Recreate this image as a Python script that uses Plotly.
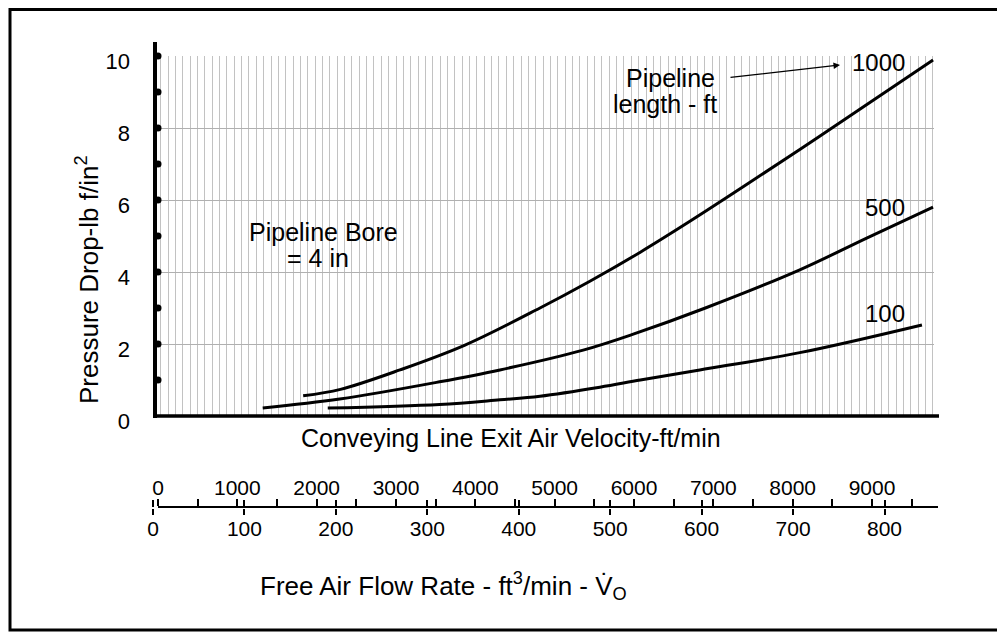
import plotly.graph_objects as go

W, H = 1005, 632
OFF = 8  # the page body adds an 8 px margin around the figure
FONT = "Liberation Sans, Arial, Helvetica, sans-serif"

# pressure drop (lbf/in2) against conveying line exit air velocity (ft/min)
v_1000 = [1830, 2300, 3050, 3870, 4815, 5450, 6080, 6700, 7400, 8100, 8800, 9770]
p_1000 = [0.56, 0.74, 1.28, 1.97, 3.00, 3.75, 4.55, 5.40, 6.40, 7.42, 8.45, 9.89]
v_500 = [1320, 2290, 3550, 4310, 5360, 6000, 6900, 8090, 8940, 9770]
p_500 = [0.22, 0.47, 0.95, 1.28, 1.83, 2.28, 3.00, 4.06, 4.95, 5.80]
v_100 = [2140, 3550, 4310, 4815, 5570, 6080, 6830, 8090, 9630]
p_100 = [0.22, 0.32, 0.45, 0.55, 0.80, 1.00, 1.28, 1.76, 2.53]

curve_labels = ["1000", "500", "100"]

y_ticks = [0, 2, 4, 6, 8, 10]
y_dots = [1, 2, 3, 4, 5, 6, 7, 8, 9, 10]

vel_ticks = [0, 500, 1000, 1500, 2000, 2500, 3000, 3500, 4000, 4500,
             5000, 5500, 6000, 6500, 7000, 7500, 8000, 8500, 9000, 9500]
vel_text = ["0", "", "1000", "", "2000", "", "3000", "", "4000", "",
            "5000", "", "6000", "", "7000", "", "8000", "", "9000", ""]
flow_ticks = [0, 100, 200, 300, 400, 500, 600, 700, 800]
flow_text = ["0", "100", "200", "300", "400", "500", "600", "700", "800"]


def fx(px):
    return (px - OFF) / W


def fy(py):
    return 1 - (py - OFF) / H


fig = go.Figure()

for v, p in [(v_1000, p_1000), (v_500, p_500), (v_100, p_100)]:
    fig.add_trace(go.Scatter(x=v, y=p, mode="lines", line=dict(color="black", width=3, shape="spline"),
                             showlegend=False, hoverinfo="skip"))

# dots on the pressure axis
fig.add_trace(go.Scatter(x=[0] * len(y_dots), y=y_dots, mode="markers",
                         marker=dict(color="black", size=7), cliponaxis=False,
                         showlegend=False, hoverinfo="skip"))

# invisible traces so the lower scales get drawn
for xa, ya in [("x2", "y2"), ("x4", "y2"), ("x3", "y3")]:
    fig.add_trace(go.Scatter(x=[0], y=[0.5], xaxis=xa, yaxis=ya, mode="markers",
                             marker=dict(opacity=0), showlegend=False, hoverinfo="skip"))

fig.update_layout(
    width=W, height=H,
    margin=dict(l=0, r=0, t=0, b=0),
    paper_bgcolor="white", plot_bgcolor="rgba(0,0,0,0)",
    font=dict(family=FONT, color="black", size=21),
    xaxis=dict(domain=[fx(155), fx(934)], range=[-37.8, 9782], automargin=False,
               showgrid=True, gridcolor="#c2c2c2", gridwidth=1, tick0=34, dtick=92.7,
               showticklabels=False, ticks="", zeroline=False, showline=False),
    yaxis=dict(domain=[fy(416), fy(56)], range=[0, 10], automargin=False,
               showgrid=True, gridcolor="#b0b0b0", gridwidth=1,
               tickvals=y_ticks, ticks="", ticklabelstandoff=24, ticklabelshift=5,
               tickfont=dict(size=22), zeroline=False, showline=False),
    yaxis2=dict(domain=[0, fy(508)], range=[0, 1], visible=False, automargin=False),
    yaxis3=dict(domain=[fy(508), fy(470)], range=[0, 1], visible=False, automargin=False),
    xaxis2=dict(domain=[fx(158), fx(938)], range=[0, 9832], anchor="y2", side="top", automargin=False,
                showline=True, linecolor="black", linewidth=2,
                ticks="outside", ticklen=7, tickwidth=2, tickcolor="black", ticklabelstandoff=-4,
                tickvals=vel_ticks, ticktext=vel_text, showgrid=False, zeroline=False),
    xaxis4=dict(domain=[fx(153), fx(938)], range=[0, 858.5], anchor="y2", side="top", automargin=False,
                showline=False, ticks="outside", ticklen=7, tickwidth=2, tickcolor="black",
                tickvals=flow_ticks, showticklabels=False, showgrid=False, zeroline=False),
    xaxis3=dict(domain=[fx(153), fx(938)], range=[0, 858.5], anchor="y3", side="bottom", automargin=False,
                showline=False, ticks="outside", ticklen=6, tickwidth=2, tickcolor="black",
                tickvals=flow_ticks, ticktext=flow_text, ticklabelstandoff=-4,
                showgrid=False, zeroline=False),
)

# axis lines and frame
fig.add_shape(type="line", xref="paper", yref="paper", x0=fx(155), x1=fx(155), y0=fy(418), y1=fy(42),
              line=dict(color="black", width=4))
fig.add_shape(type="line", xref="paper", yref="paper", x0=fx(153), x1=fx(939), y0=fy(416), y1=fy(416),
              line=dict(color="black", width=3.5))
fig.add_shape(type="rect", xref="paper", yref="paper", x0=fx(10), x1=fx(1002), y0=fy(630), y1=fy(9.5),
              line=dict(color="black", width=3))

ann = dict(showarrow=False, xref="paper", yref="paper", xanchor="center", yanchor="middle")
big = dict(family=FONT, size=25, color="black")
fig.add_annotation(x=fx(87), y=fy(280), textangle=-90, font=dict(big, size=26),
                   text="Pressure Drop-lb f/in<sup>2</sup>", **ann)
fig.add_annotation(x=fx(511), y=fy(438), font=big,
                   text="Conveying Line Exit Air Velocity-ft/min", **ann)
fig.add_annotation(x=fx(443), y=fy(586), font=dict(big, size=26),
                   text="Free Air Flow Rate - ft<sup>3</sup>/min - V\u0307<sub>O</sub>", **ann)
fig.add_annotation(x=fx(323), y=fy(232), font=big, text="Pipeline Bore", **ann)
fig.add_annotation(x=fx(318), y=fy(258), font=big, text="= 4 in", **ann)
fig.add_annotation(x=fx(670), y=fy(78), font=big, text="Pipeline", **ann)
fig.add_annotation(x=fx(665), y=fy(104), font=big, text="length - ft", **ann)
for lab, (lx, ly) in zip(curve_labels, [(878, 62), (885, 207), (885, 313)]):
    fig.add_annotation(x=fx(lx), y=fy(ly), font=dict(big, size=24), text=lab, **ann)

fig.add_annotation(x=8597, y=9.75, ax=7198, ay=9.40, xref="x", yref="y", axref="x", ayref="y",
                   text="", showarrow=True, arrowhead=2, arrowsize=1, arrowwidth=1.3, arrowcolor="black")

fig.write_html("out.html")
